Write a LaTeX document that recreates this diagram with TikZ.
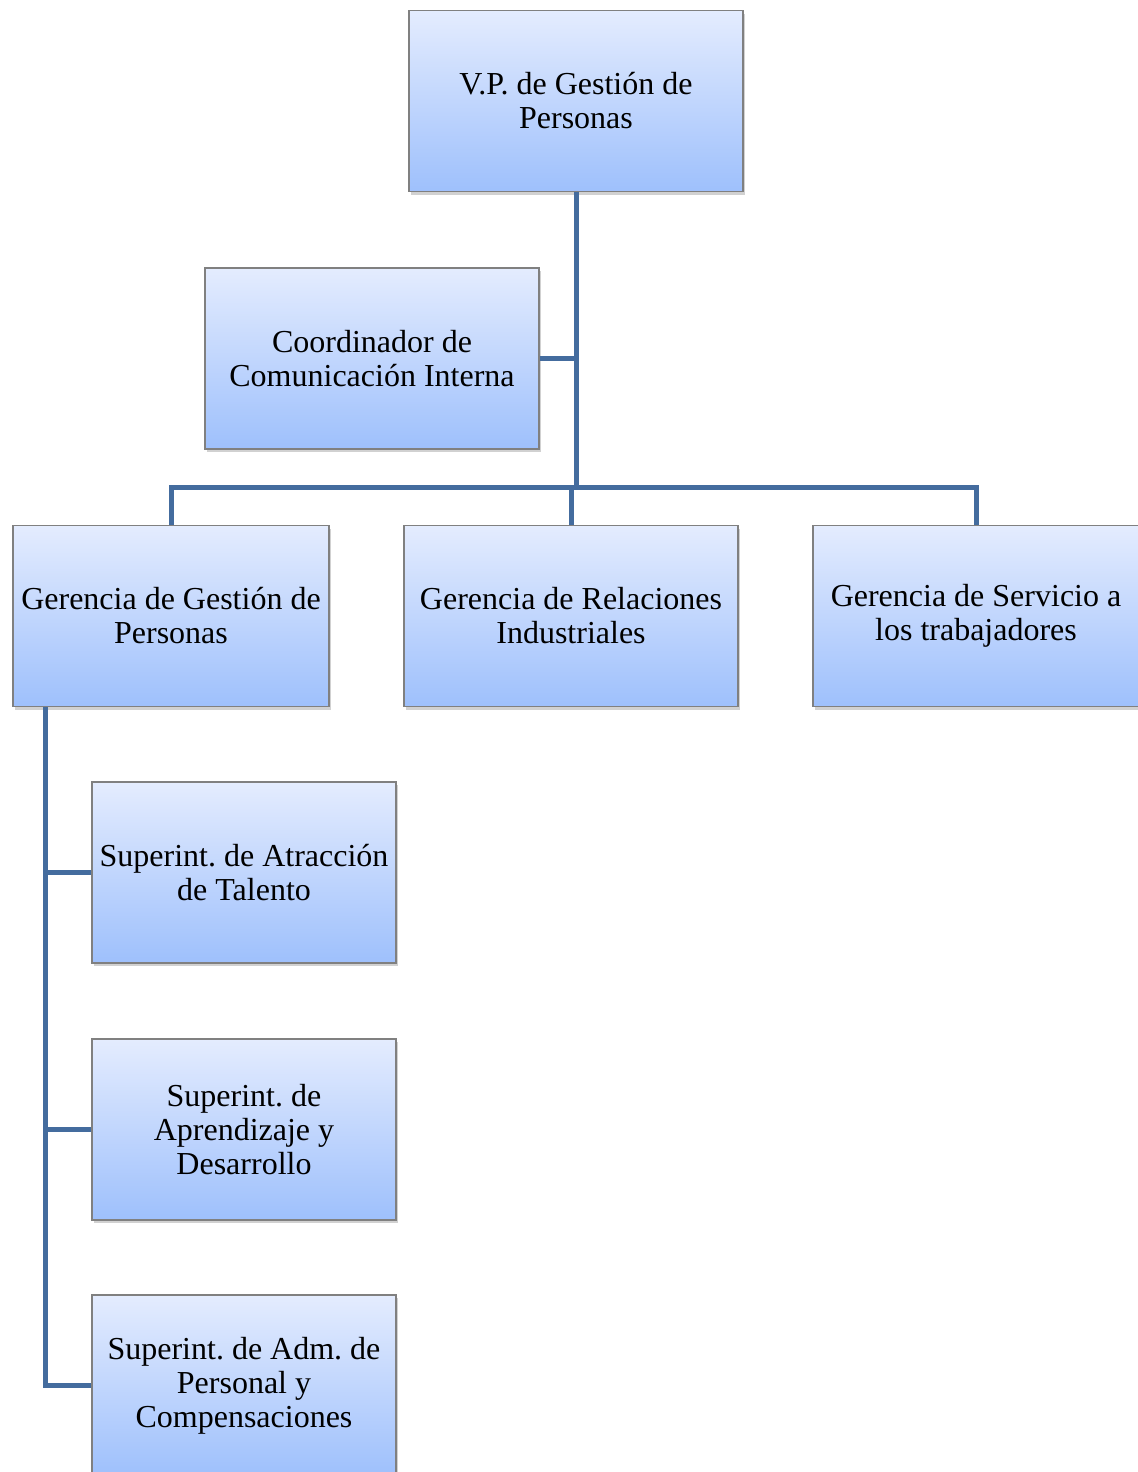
\documentclass[tikz,border=0pt]{standalone}
\usepackage{fontspec}
\setmainfont{Liberation Serif}
\usetikzlibrary{shadows}
\definecolor{lineblue}{RGB}{68,108,158}
\definecolor{boxtop}{RGB}{228,236,254}
\definecolor{boxbot}{RGB}{158,192,252}
\definecolor{boxedge}{RGB}{128,128,128}
\frenchspacing

\begin{document}
\begin{tikzpicture}[x=0.5pt,y=-0.5pt,
  puesto/.style={draw=boxedge, line width=0.7pt, top color=boxtop, bottom color=boxbot,
    minimum height=90.5pt, inner sep=2pt, align=center,
    font=\fontsize{16}{17}\selectfont,
    drop shadow={shadow xshift=1.2pt, shadow yshift=-1.6pt, opacity=0.3, fill=black!60}},
  enlace/.style={lineblue, line width=2.5pt}]
\useasboundingbox (0,0) rectangle (1138,1472);

% cajas
\node [puesto, minimum width=167pt] (vp) at (576,101) {V.P. de Gestión de\\Personas};
\node [puesto, minimum width=167pt] (coord) at (372,358.5) {Coordinador de\\Comunicación Interna};

\node [puesto, minimum width=158pt] (gger) at (171,616) {Gerencia de Gestión de\\Personas};
\node [puesto, minimum width=167pt] (grel) at (571,616) {Gerencia de Relaciones\\Industriales};
\node [puesto, minimum width=163pt] (gserv) at (976,616) {\vphantom{ó}Gerencia de Servicio a\\los trabajadores};

\node [puesto, minimum width=152pt] (sat) at (244,872.5) {Superint. de Atracción\\de Talento};
\node [puesto, minimum width=152pt] (sap) at (244,1129.5) {Superint. de\\Aprendizaje y\\Desarrollo};
\node [puesto, minimum width=152pt] (sadm) at (244,1385.5) {Superint. de Adm. de\\Personal y\\Compensaciones};

% lineas
\coordinate (bus) at (576,487);
\coordinate (tronco) at (45,707);
\draw [enlace] (vp.south) -- (bus);
\draw [enlace] (coord.east) -- (coord.east -| bus);
\draw [enlace] (gger.north) |- (bus) -| (gserv.north);
\draw [enlace] (grel.north) -- (grel.north |- bus);
\draw [enlace] (tronco) |- (sadm.west);
\draw [enlace] (sat.west) -- (sat.west -| tronco);
\draw [enlace] (sap.west) -- (sap.west -| tronco);

\end{tikzpicture}
\end{document}
